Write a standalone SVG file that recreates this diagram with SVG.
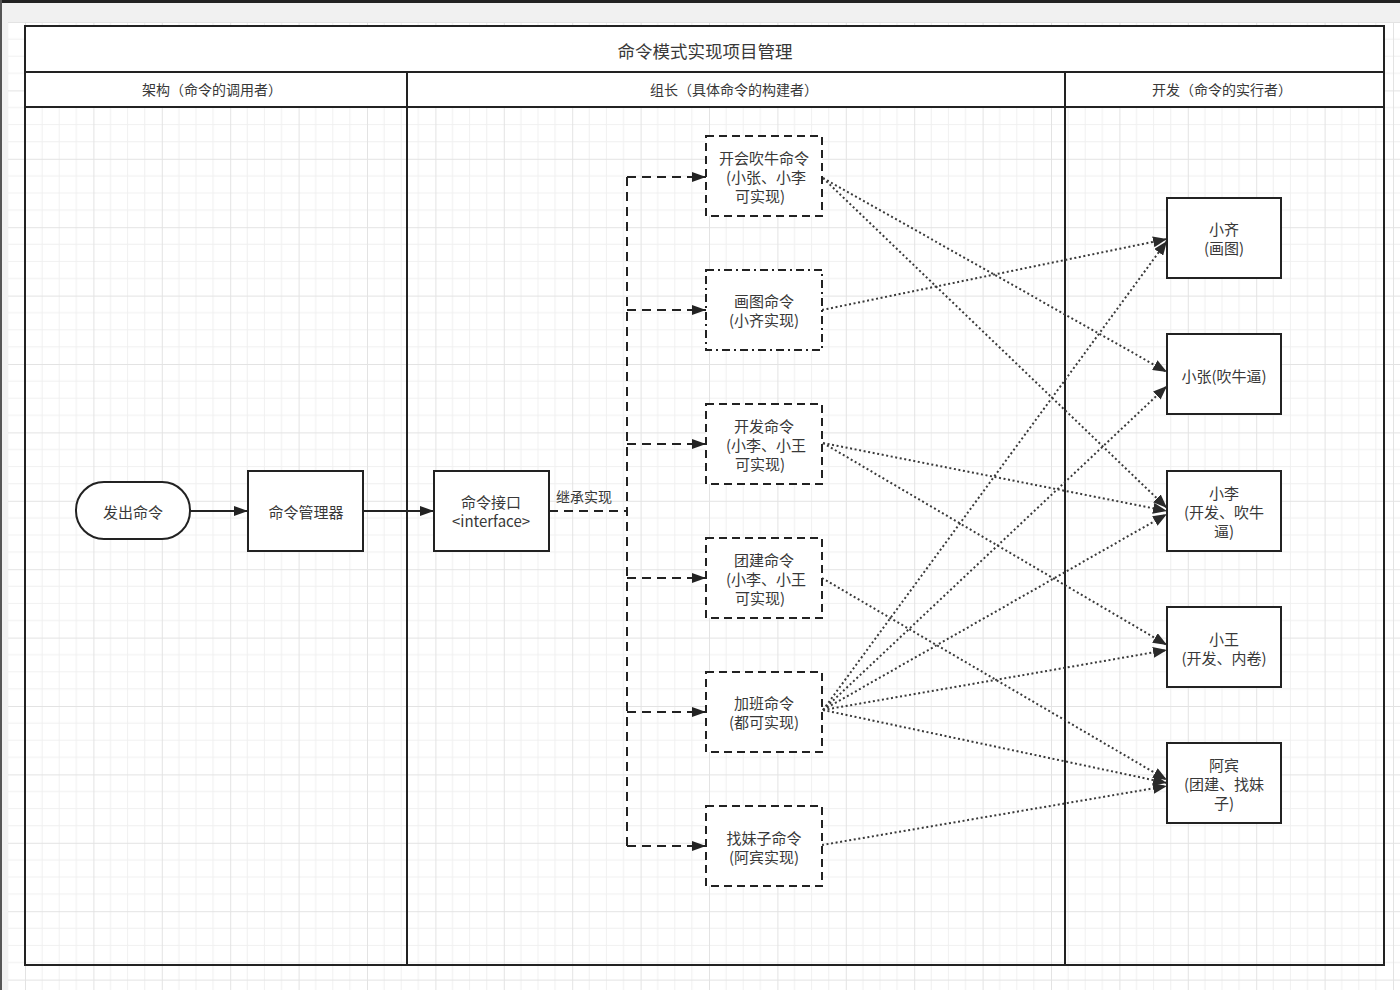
<svg xmlns="http://www.w3.org/2000/svg" width="1400" height="990" viewBox="0 0 1400 990">
<style>
.t{font-family:"Noto Sans CJK SC","Liberation Sans",sans-serif;font-size:15px;fill:#383838;text-anchor:middle;dominant-baseline:central}
.h{font-size:14px}
.ti{font-size:17.5px}
.box{fill:#fff;stroke:#222;stroke-width:2}
.dbox{fill:#fff;stroke:#222;stroke-width:2;stroke-dasharray:8 5}
.ddbox{fill:#fff;stroke:#222;stroke-width:2;stroke-dasharray:8 4 2 4}
.frame{fill:none;stroke:#222;stroke-width:2}
.solid{fill:none;stroke:#222;stroke-width:2}
.dash{fill:none;stroke:#222;stroke-width:2;stroke-dasharray:9 6}
.dot{fill:none;stroke:#3a3a3a;stroke-width:2;stroke-dasharray:2 2.6}
</style>
<defs>
<pattern id="grid" x="25" y="22" width="68.4" height="68.4" patternUnits="userSpaceOnUse">
<path d="M17.1 0V68.4M34.2 0V68.4M51.3 0V68.4M0 17.1H68.4M0 34.2H68.4M0 51.3H68.4" stroke="#f0f0f0" stroke-width="1" fill="none"/>
<path d="M0.5 0V68.4M0 0.5H68.4" stroke="#e3e3e3" stroke-width="1" fill="none"/>
</pattern>
<marker id="arr" viewBox="0 0 14 10" refX="14" refY="5" markerWidth="14" markerHeight="10" orient="auto" markerUnits="userSpaceOnUse">
<path d="M0,0 L14,5 L0,10 Z" fill="#222"/>
</marker>
<marker id="arrd" viewBox="0 0 14 11" refX="14" refY="5.5" markerWidth="14" markerHeight="11" orient="auto" markerUnits="userSpaceOnUse">
<path d="M0,0 L14,5.5 L0,11 Z" fill="#2a2a2a"/>
</marker>
</defs>
<rect x="0" y="0" width="1400" height="990" fill="#f1f1f1"/>
<rect x="8" y="22" width="1392" height="968" fill="#fff"/>
<rect x="8" y="22" width="1392" height="968" fill="url(#grid)"/>
<rect x="0" y="0" width="1400" height="3" fill="#222"/>
<rect x="0" y="0" width="2" height="990" fill="#555"/>

<g id="pool">
<rect x="25" y="26" width="1359" height="81" fill="#fff"/>
<rect x="25" y="26" width="1359" height="939" class="frame"/>
<line x1="25" y1="72" x2="1384" y2="72" class="frame"/>
<line x1="25" y1="107" x2="1384" y2="107" class="frame"/>
<line x1="407" y1="72" x2="407" y2="965" class="frame"/>
<line x1="1065" y1="72" x2="1065" y2="965" class="frame"/>
<text x="705" y="50" class="t ti">命令模式实现项目管理</text>
<text x="212" y="89" class="t h">架构（命令的调用者）</text>
<text x="734" y="89" class="t h">组长（具体命令的构建者）</text>
<text x="1222" y="89" class="t h">开发（命令的实行者）</text>
</g>

<g id="connectors">
<line x1="190" y1="511" x2="248" y2="511" class="solid" marker-end="url(#arr)"/>
<line x1="363" y1="511" x2="434" y2="511" class="solid" marker-end="url(#arr)"/>
<path d="M549 511H627" class="dash"/>
<path d="M627 177V846" class="dash"/>
<path d="M627 177H706" class="dash" marker-end="url(#arr)"/>
<path d="M627 310H706" class="dash" marker-end="url(#arr)"/>
<path d="M627 444H706" class="dash" marker-end="url(#arr)"/>
<path d="M627 578H706" class="dash" marker-end="url(#arr)"/>
<path d="M627 712H706" class="dash" marker-end="url(#arr)"/>
<path d="M627 846H706" class="dash" marker-end="url(#arr)"/>
<text x="584" y="496" class="t h">继承实现</text>

<line x1="823" y1="178" x2="1167" y2="372" class="dot" marker-end="url(#arrd)"/>
<line x1="823" y1="178" x2="1167" y2="508" class="dot" marker-end="url(#arrd)"/>
<line x1="822" y1="310" x2="1167" y2="239" class="dot" marker-end="url(#arrd)"/>
<line x1="823" y1="443" x2="1167" y2="511" class="dot" marker-end="url(#arrd)"/>
<line x1="823" y1="443" x2="1167" y2="645" class="dot" marker-end="url(#arrd)"/>
<line x1="822" y1="578" x2="1167" y2="780" class="dot" marker-end="url(#arrd)"/>
<line x1="823" y1="710" x2="1167" y2="241" class="dot" marker-end="url(#arrd)"/>
<line x1="823" y1="710" x2="1167" y2="386" class="dot" marker-end="url(#arrd)"/>
<line x1="823" y1="710" x2="1167" y2="514" class="dot" marker-end="url(#arrd)"/>
<line x1="823" y1="710" x2="1167" y2="650" class="dot" marker-end="url(#arrd)"/>
<line x1="823" y1="710" x2="1167" y2="783" class="dot" marker-end="url(#arrd)"/>
<line x1="822" y1="845" x2="1167" y2="786" class="dot" marker-end="url(#arrd)"/>
</g>

<g id="n-issue">
<rect x="76" y="482" width="114" height="57" rx="28" class="box"/>
<text x="133" y="511" class="t">发出命令</text>
</g>
<g id="n-manager">
<rect x="248" y="471" width="115" height="80" class="box"/>
<text x="306" y="511" class="t">命令管理器</text>
</g>
<g id="n-interface">
<rect x="434" y="471" width="115" height="80" class="box"/>
<text x="491" y="501" class="t">命令接口</text>
<text x="491" y="520" class="t">&lt;interface&gt;</text>
</g>

<g id="c-meeting">
<rect x="706" y="136" width="116" height="80" class="dbox"/>
<text x="764" y="157" class="t">开会吹牛命令</text>
<text x="766" y="176" class="t">(小张、小李</text>
<text x="760" y="195" class="t">可实现)</text>
</g>
<g id="c-draw">
<rect x="706" y="270" width="116" height="80" class="ddbox"/>
<text x="764" y="300" class="t">画图命令</text>
<text x="764" y="319" class="t">(小齐实现)</text>
</g>
<g id="c-dev">
<rect x="706" y="404" width="116" height="80" class="dbox"/>
<text x="764" y="425" class="t">开发命令</text>
<text x="766" y="444" class="t">(小李、小王</text>
<text x="760" y="463" class="t">可实现)</text>
</g>
<g id="c-team">
<rect x="706" y="538" width="116" height="80" class="dbox"/>
<text x="764" y="559" class="t">团建命令</text>
<text x="766" y="578" class="t">(小李、小王</text>
<text x="760" y="597" class="t">可实现)</text>
</g>
<g id="c-overtime">
<rect x="706" y="672" width="116" height="80" class="dbox"/>
<text x="764" y="702.5" class="t">加班命令</text>
<text x="764" y="721.5" class="t">(都可实现)</text>
</g>
<g id="c-date">
<rect x="706" y="806" width="116" height="80" class="dbox"/>
<text x="764" y="837" class="t">找妹子命令</text>
<text x="764" y="856" class="t">(阿宾实现)</text>
</g>

<g id="d-qi">
<rect x="1167" y="198" width="114" height="80" class="box"/>
<text x="1224" y="228.5" class="t">小齐</text>
<text x="1224" y="247.5" class="t">(画图)</text>
</g>
<g id="d-zhang">
<rect x="1167" y="334" width="114" height="80" class="box"/>
<text x="1224" y="375" class="t">小张(吹牛逼)</text>
</g>
<g id="d-li">
<rect x="1167" y="471" width="114" height="80" class="box"/>
<text x="1224" y="492" class="t">小李</text>
<text x="1224" y="511" class="t">(开发、吹牛</text>
<text x="1224" y="530" class="t">逼)</text>
</g>
<g id="d-wang">
<rect x="1167" y="607" width="114" height="80" class="box"/>
<text x="1224" y="638" class="t">小王</text>
<text x="1224" y="657" class="t">(开发、内卷)</text>
</g>
<g id="d-bin">
<rect x="1167" y="743" width="114" height="80" class="box"/>
<text x="1224" y="764.5" class="t">阿宾</text>
<text x="1224" y="783.5" class="t">(团建、找妹</text>
<text x="1224" y="802.5" class="t">子)</text>
</g>
</svg>
